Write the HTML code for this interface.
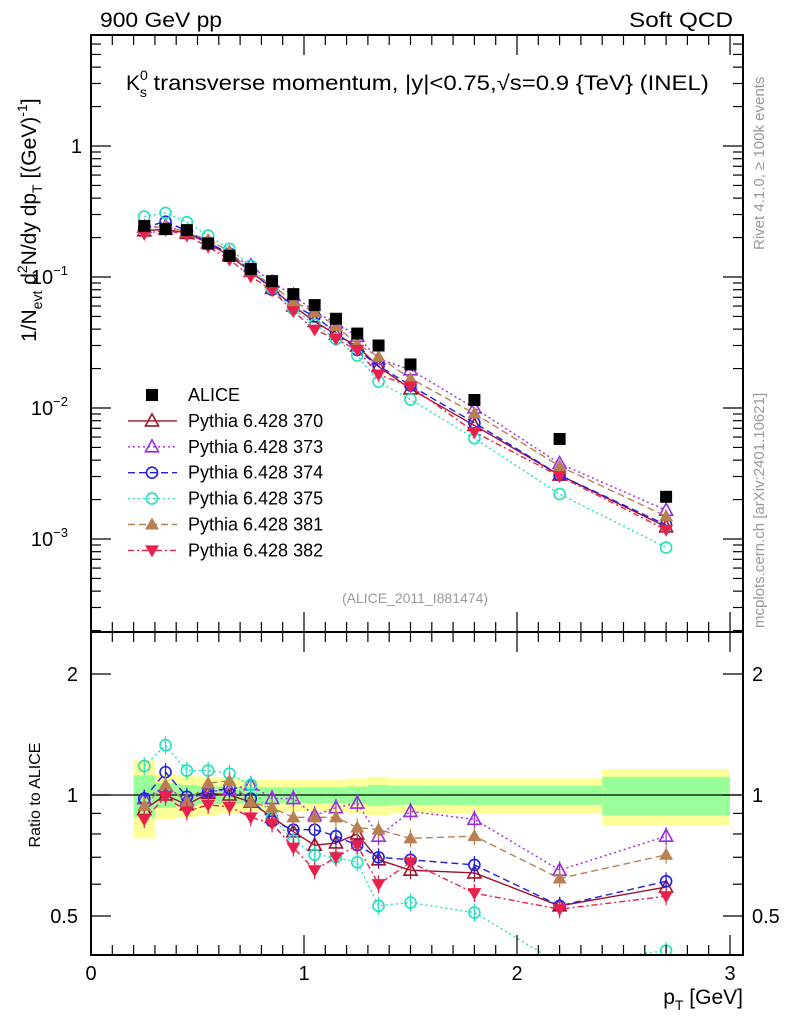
<!DOCTYPE html>
<html><head><meta charset="utf-8"><style>
html,body{margin:0;padding:0;background:#fff;}
svg{display:block;font-family:"Liberation Sans",Arial,sans-serif;}
</style></head><body>
<svg id="chart" width="786" height="1024" viewBox="0 0 786 1024">
<defs>
<clipPath id="clipMain"><rect x="91" y="35" width="652" height="597"/></clipPath>
<clipPath id="clipRatio"><rect x="91" y="632" width="652" height="323"/></clipPath>
</defs>
<text x="100" y="27" font-size="21" textLength="122" lengthAdjust="spacingAndGlyphs">900 GeV pp</text>
<text x="629" y="27" font-size="21" textLength="104" lengthAdjust="spacingAndGlyphs">Soft QCD</text>
<text x="126" y="90" font-size="21">K<tspan font-size="14" dy="-10">0</tspan><tspan font-size="14" dx="-8" dy="17">s</tspan><tspan dy="-7" textLength="562" lengthAdjust="spacingAndGlyphs"> transverse momentum, |y|&lt;0.75,√s=0.9 {TeV} (INEL)</tspan></text>
<text transform="translate(36,342) rotate(-90)" font-size="21">1/N<tspan font-size="14" dy="6">evt</tspan><tspan dy="-6">   d</tspan><tspan font-size="14" dy="-9">2</tspan><tspan dy="9">N/dy dp</tspan><tspan font-size="14" dy="6">T</tspan><tspan dy="-6">  [(GeV)</tspan><tspan font-size="14" dy="-9">-1</tspan><tspan dy="9">]</tspan></text>
<text transform="translate(764,250) rotate(-90)" font-size="15" fill="#999">Rivet 4.1.0, ≥ 100k events</text>
<text transform="translate(764,628) rotate(-90)" font-size="15" fill="#999">mcplots.cern.ch [arXiv:2401.10621]</text>
<text x="415" y="603" font-size="14" fill="#999" text-anchor="middle">(ALICE_2011_I881474)</text>
<text transform="translate(40,795) rotate(-90)" font-size="16" text-anchor="middle">Ratio to ALICE</text>
<text x="743" y="1004" font-size="21" text-anchor="end">p<tspan font-size="14" dy="6">T</tspan><tspan dy="-6"> [GeV]</tspan></text>
<g id="bands" clip-path="url(#clipRatio)"></g>
<g id="ratioMarks" clip-path="url(#clipRatio)"></g>
<g id="mainMarks" clip-path="url(#clipMain)"></g>
<g id="axes"></g>
<g id="legend"></g>
</svg>
<script>
const xCenters=[0.25,0.35,0.45,0.55,0.65,0.75,0.85,0.95,1.05,1.15,1.25,1.35,1.5,1.8,2.2,2.7];
const xEdges=[0.2,0.3,0.4,0.5,0.6,0.7,0.8,0.9,1.0,1.1,1.2,1.3,1.4,1.6,2.0,2.4,3.0];
const alice=[0.245,0.232,0.228,0.18,0.145,0.115,0.093,0.074,0.061,0.048,0.037,0.030,0.0215,0.0115,0.0058,0.0021];
const bandTotal=[0.22,0.13,0.12,0.11,0.10,0.09,0.09,0.09,0.09,0.09,0.10,0.11,0.10,0.10,0.10,0.16];
const bandStat=[0.12,0.07,0.06,0.05,0.05,0.045,0.045,0.045,0.045,0.045,0.05,0.06,0.055,0.055,0.055,0.11];
const r370=[0.92,1.0,0.945,1.01,1.0,0.96,0.88,0.81,0.75,0.76,0.80,0.69,0.65,0.64,0.53,0.59];
const r373=[0.98,1.05,0.97,1.02,1.03,1.06,0.98,0.98,0.89,0.93,0.955,0.79,0.91,0.87,0.65,0.79];
const r374=[0.98,1.14,0.99,1.02,1.04,0.98,0.86,0.82,0.82,0.79,0.75,0.70,0.69,0.67,0.53,0.61];
const r375=[1.18,1.33,1.15,1.15,1.13,1.06,0.88,0.77,0.71,0.70,0.68,0.53,0.54,0.51,0.38,0.41];
const r381=[0.94,1.06,0.96,1.07,1.085,0.96,0.93,0.88,0.88,0.88,0.83,0.82,0.78,0.79,0.62,0.71];
const r382=[0.87,0.99,0.91,0.945,0.935,0.88,0.85,0.74,0.65,0.70,0.75,0.60,0.68,0.57,0.52,0.56];
const series=[
 {name:'Pythia 6.428 370',key:'mc-370',r:r370,color:'#a0102a',dash:'',marker:'tri-open'},
 {name:'Pythia 6.428 373',key:'mc-373',r:r373,color:'#9a2be0',dash:'2,3',marker:'tri-open'},
 {name:'Pythia 6.428 374',key:'mc-374',r:r374,color:'#2020e0',dash:'7,4',marker:'circ-open'},
 {name:'Pythia 6.428 375',key:'mc-375',r:r375,color:'#20e0c0',dash:'2,3',marker:'circ-open'},
 {name:'Pythia 6.428 381',key:'mc-381',r:r381,color:'#b88050',dash:'7,4',marker:'tri-fill'},
 {name:'Pythia 6.428 382',key:'mc-382',r:r382,color:'#e8204c',dash:'6,3,2,3',marker:'tridown-fill'}
];
const NS='http://www.w3.org/2000/svg';
const X=v=>91+v*213;
const YM=v=>146-Math.log10(v)*131;
const YR=v=>795-Math.log10(v)*402;
function mk(tag,attrs,parent){const e=document.createElementNS(NS,tag);for(const k in attrs)e.setAttribute(k,attrs[k]);parent.appendChild(e);return e;}
function marker(type,x,y,c,parent){
 let e;
 if(type==='square'){e=mk('rect',{x:x-6,y:y-6,width:12,height:12,fill:'#000'},parent);}
 else if(type==='circ-open'){e=mk('circle',{cx:x,cy:y,r:5.5,fill:'none',stroke:c,'stroke-width':1.6},parent);}
 else if(type==='tri-open'){e=mk('polygon',{points:`${x},${y-7} ${x-6.5},${y+5} ${x+6.5},${y+5}`,fill:'none',stroke:c,'stroke-width':1.6},parent);}
 else if(type==='tri-fill'){e=mk('polygon',{points:`${x},${y-7} ${x-7},${y+5} ${x+7},${y+5}`,fill:c},parent);}
 else {e=mk('polygon',{points:`${x},${y+7} ${x-7},${y-5} ${x+7},${y-5}`,fill:c},parent);}
 return e;
}
const bands=document.getElementById('bands');
for(let i=0;i<xCenters.length;i++){
 const x0=X(xEdges[i]),x1=X(xEdges[i+1]);
 const y=mk('rect',{x:x0,y:YR(1+bandTotal[i]),width:x1-x0,height:YR(1-bandTotal[i])-YR(1+bandTotal[i]),fill:'#ffff99'},bands);
 
 
 const g=mk('rect',{x:x0,y:YR(1+bandStat[i]),width:x1-x0,height:YR(1-bandStat[i])-YR(1+bandStat[i]),fill:'#99ff99'},bands);
 
 
}
const rl=mk('line',{x1:91,x2:743,y1:YR(1),y2:YR(1),stroke:'#000','stroke-width':1.2},bands);


const main=document.getElementById('mainMarks'),ratio=document.getElementById('ratioMarks');
series.forEach(s=>{
 const mv=s.r.map((r,i)=>r*alice[i]);
 const gm=mk('g',{},main);
 
 
 mk('polyline',{points:xCenters.map((x,i)=>X(x)+','+YM(mv[i])).join(' '),fill:'none',stroke:s.color,'stroke-width':1.4,'stroke-dasharray':s.dash},gm);
 const gr=mk('g',{},ratio);
 
 
 mk('polyline',{points:xCenters.map((x,i)=>X(x)+','+YR(s.r[i])).join(' '),fill:'none',stroke:s.color,'stroke-width':1.4,'stroke-dasharray':s.dash},gr);
 xCenters.forEach((x,i)=>{
  const yr=YR(s.r[i]);
  const eb=mk('line',{x1:X(x),x2:X(x),y1:yr-9,y2:yr+9,stroke:s.color,'stroke-width':1.2},gr);
  
  
  const a=marker(s.marker,X(x),YM(mv[i]),s.color,gm);
  
  
  const b=marker(s.marker,X(x),yr,s.color,gr);
  
  
 });
});
const ga=mk('g',{},main);


xCenters.forEach((x,i)=>{
 const p=marker('square',X(x),YM(alice[i]),'#000',ga);
 
 
});
const ax=document.getElementById('axes');
const f1=mk('rect',{x:91,y:35,width:652,height:597,fill:'none',stroke:'#000','stroke-width':2},ax);


const f2=mk('rect',{x:91,y:632,width:652,height:323,fill:'none',stroke:'#000','stroke-width':2},ax);


function tick(x1,y1,x2,y2){mk('line',{x1,y1,x2,y2,stroke:'#000','stroke-width':1.2},ax);}
for(let v=0;v<=3.05;v+=0.1){
 const x=X(v),major=Math.abs(v-Math.round(v))<1e-6,l=major?20:10;
 tick(x,35,x,35+l);tick(x,955,x,955-l);tick(x,632,x,632-l);tick(x,632,x,632+l);
}
['0','1','2','3'].forEach((t,i)=>{const e=mk('text',{x:X(i),y:980,'font-size':20,'text-anchor':'middle'},ax);e.textContent=t;
 
 });
for(let d=-4;d<=0;d++){for(let m=1;m<10;m++){const v=m*Math.pow(10,d),y=YM(v);if(y<35||y>632)continue;const l=m===1?20:10;tick(91,y,91+l,y);tick(743,y,743-l,y);}}
const mlabs=[['1',1],['10',0.1],['10',0.01],['10',0.001]],exps=['','−1','−2','−3'];
mlabs.forEach((t,i)=>{const e=mk('text',{x:80,y:YM(t[1])+7,'font-size':20,'text-anchor':'end'},ax);
 
 
 if(i===0){e.textContent='1';e.setAttribute('x',82);}else{e.setAttribute('x',68);e.textContent=t[0];const s=mk('tspan',{'font-size':13,dy:-9},e);s.textContent=exps[i];}});
[0.4,0.5,0.6,0.7,0.8,0.9,1,2].forEach(v=>{const y=YR(v);const l=(v===0.5||v===1||v===2)?20:10;tick(91,y,91+l,y);tick(743,y,743-l,y);});
[['0.5',0.5],['1',1],['2',2]].forEach(t=>{
 const a=mk('text',{x:78,y:YR(t[1])+7,'font-size':20,'text-anchor':'end'},ax);a.textContent=t[0];
 
 
 const b=mk('text',{x:752,y:YR(t[1])+7,'font-size':20},ax);b.textContent=t[0];
 
 
});
const lg=document.getElementById('legend');


const rows=[{name:'ALICE',marker:'square',color:'#000',dash:null}].concat(series);
rows.forEach((s,i)=>{
 const y=395+i*25.9;
 const g=mk('g',{},lg);
 
 
 if(s.dash!==null)mk('line',{x1:128,x2:177,y1:y,y2:y,stroke:s.color,'stroke-width':1.4,'stroke-dasharray':s.dash},g);
 marker(s.marker,152,y,s.color,g);
 const t=mk('text',{x:188,y:y+6,'font-size':18},g);t.textContent=s.name;
});
</script>
</body></html>
